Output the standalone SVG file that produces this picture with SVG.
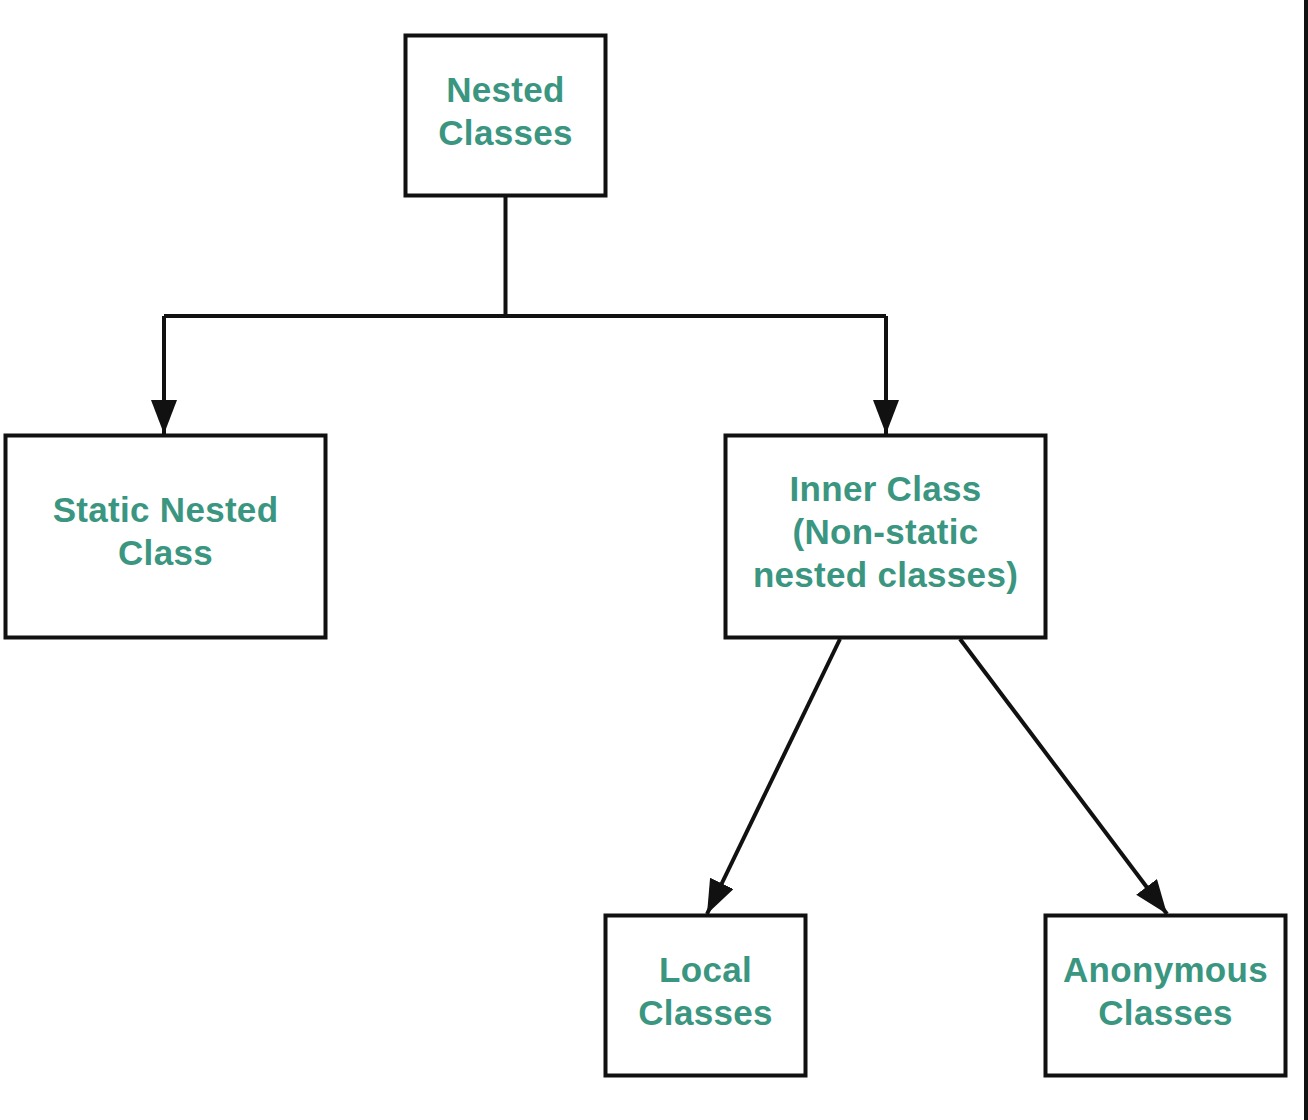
<svg xmlns="http://www.w3.org/2000/svg" width="1308" height="1120" viewBox="0 0 1308 1120">
  <style>
    .box { fill: #ffffff; stroke: #111111; stroke-width: 4; }
    .lbl { font-family: "Liberation Sans", Arial, sans-serif; font-weight: bold; font-size: 35px; letter-spacing: 0.3px; fill: #3a9680; text-anchor: middle; }
    .edge { fill: none; stroke: #111111; stroke-width: 4; }
  </style>
  <defs>
    <marker id="arrow" markerUnits="userSpaceOnUse" markerWidth="36" markerHeight="28" refX="34" refY="13" orient="auto">
      <path d="M0,0 L34,13 L0,26 Z" fill="#111111"/>
    </marker>
  </defs>
  <rect x="0" y="0" width="1308" height="1120" fill="#ffffff"/>
  <rect x="1304" y="0" width="4" height="1120" fill="#111111"/>

  <g id="connectors">
    <polyline class="edge" points="505.5,196 505.5,316"/>
    <polyline class="edge" points="164,316 886,316"/>
    <line class="edge" x1="164" y1="316" x2="164" y2="434" marker-end="url(#arrow)"/>
    <line class="edge" x1="886" y1="316" x2="886" y2="434" marker-end="url(#arrow)"/>
    <line class="edge" x1="840" y1="639" x2="707" y2="914" marker-end="url(#arrow)"/>
    <line class="edge" x1="960" y1="639" x2="1167" y2="914" marker-end="url(#arrow)"/>
  </g>

  <g id="nested-classes">
    <rect class="box" x="405.5" y="35.5" width="200" height="160"/>
    <text class="lbl" x="505.5" y="102">Nested</text>
    <text class="lbl" x="505.5" y="145">Classes</text>
  </g>
  <g id="static-nested-class">
    <rect class="box" x="5.5" y="435.5" width="320" height="202"/>
    <text class="lbl" x="165.5" y="522">Static Nested</text>
    <text class="lbl" x="165.5" y="565">Class</text>
  </g>
  <g id="inner-class">
    <rect class="box" x="725.5" y="435.5" width="320" height="202"/>
    <text class="lbl" x="885.5" y="501">Inner Class</text>
    <text class="lbl" x="885.5" y="544">(Non-static</text>
    <text class="lbl" x="885.5" y="587">nested classes)</text>
  </g>
  <g id="local-classes">
    <rect class="box" x="605.5" y="915.5" width="200" height="160"/>
    <text class="lbl" x="705.5" y="982">Local</text>
    <text class="lbl" x="705.5" y="1025">Classes</text>
  </g>
  <g id="anonymous-classes">
    <rect class="box" x="1045.5" y="915.5" width="240" height="160"/>
    <text class="lbl" x="1165.5" y="982">Anonymous</text>
    <text class="lbl" x="1165.5" y="1025">Classes</text>
  </g>
</svg>
